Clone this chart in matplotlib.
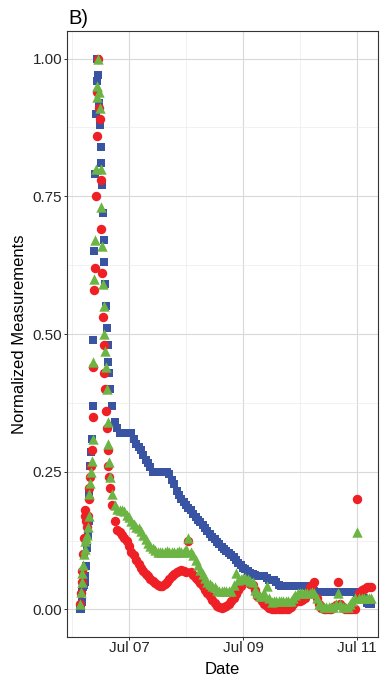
import datetime as dt

import matplotlib
matplotlib.use("Agg")
import matplotlib.pyplot as plt
import matplotlib.dates as mdates
import numpy as np
from matplotlib.ticker import MultipleLocator, FormatStrFormatter

plt.rcParams['font.family'] = ['Liberation Sans', 'DejaVu Sans']

START = dt.datetime(2021, 7, 6)

# Sampling times, hours after Jul 06 00:00: 20-min readings around the pulse,
# then hourly readings for the recession.
peak_hours = np.arange(38) / 3.0 + 10.0 / 3.0
tail_hours = np.arange(111) * 1.0 + 16.0

blue_peak = [0.0, 0.0, 0.013, 0.031, 0.04, 0.045, 0.05, 0.06, 0.078, 0.112,
             0.135, 0.16, 0.21, 0.26, 0.285, 0.31, 0.37, 0.49, 0.65, 0.79,
             0.90, 0.96, 1.0, 0.97, 0.92, 0.88, 0.84, 0.81, 0.77, 0.72,
             0.67, 0.63, 0.59, 0.55, 0.51, 0.48, 0.45, 0.43]
red_peak = [0.01, 0.03, 0.05, 0.07, 0.10, 0.13, 0.17, 0.18, 0.16, 0.15,
            0.17, 0.20, 0.22, 0.24, 0.26, 0.29, 0.35, 0.44, 0.58, 0.62,
            0.75, 0.86, 0.94, 1.0, 0.91, 0.89, 0.78, 0.69, 0.61, 0.53,
            0.48, 0.43, 0.40, 0.36, 0.33, 0.29, 0.26, 0.24]
green_peak = [0.01, 0.031, 0.05, 0.067, 0.08, 0.10, 0.11, 0.124, 0.13, 0.136,
              0.15, 0.17, 0.21, 0.23, 0.25, 0.27, 0.31, 0.45, 0.60, 0.67,
              0.80, 0.93, 0.95, 1.0, 0.94, 0.91, 0.80, 0.73, 0.66, 0.59,
              0.55, 0.50, 0.47, 0.44, 0.40, 0.34, 0.30, 0.267]

blue_tail = [
    0.40, 0.37, 0.34, 0.33, 0.32, 0.32, 0.32, 0.32, 0.32, 0.32,
    0.31, 0.30, 0.295, 0.29, 0.28, 0.272, 0.265, 0.258, 0.25, 0.25,
    0.25, 0.25, 0.25, 0.25, 0.25, 0.245, 0.235, 0.227, 0.215, 0.208,
    0.20, 0.195, 0.19, 0.185, 0.18, 0.173, 0.167, 0.163, 0.158, 0.153,
    0.148, 0.142, 0.137, 0.132, 0.127, 0.122, 0.118, 0.114, 0.11, 0.106,
    0.103, 0.099, 0.095, 0.09, 0.085, 0.08, 0.076, 0.073, 0.07, 0.067,
    0.064, 0.062, 0.06, 0.06, 0.06, 0.06, 0.057, 0.054, 0.054, 0.054,
    0.05, 0.045, 0.042, 0.042, 0.042, 0.042, 0.042, 0.042, 0.042, 0.042,
    0.042, 0.042, 0.042, 0.042, 0.04, 0.036, 0.033, 0.031, 0.031, 0.031,
    0.031, 0.031, 0.031, 0.031, 0.031, 0.031, 0.031, 0.031, 0.031, 0.031,
    0.031, 0.031, 0.031, 0.031, 0.03, 0.028, 0.024, 0.02, 0.012, 0.01,
    0.01]
red_tail = [
    0.22, 0.19, 0.16, 0.145, 0.14, 0.135, 0.13, 0.125, 0.115, 0.105,
    0.098, 0.09, 0.082, 0.076, 0.07, 0.065, 0.06, 0.056, 0.052, 0.048,
    0.045, 0.043, 0.043, 0.046, 0.05, 0.055, 0.06, 0.065, 0.068, 0.07,
    0.072, 0.07, 0.068, 0.125, 0.068, 0.063, 0.058, 0.053, 0.048, 0.042,
    0.036, 0.03, 0.025, 0.018, 0.012, 0.007, 0.004, 0.003, 0.004, 0.006,
    0.01, 0.015, 0.02, 0.028, 0.036, 0.042, 0.048, 0.05, 0.05, 0.047,
    0.044, 0.035, 0.025, 0.02, 0.015, 0.01, 0.006, 0.003, 0.0, 0.0,
    0.0, 0.0, 0.0, 0.0, 0.0, 0.0, 0.005, 0.01, 0.015, 0.015,
    0.015, 0.018, 0.02, 0.03, 0.04, 0.045, 0.05, 0.02, 0.01, 0.003,
    0.0, 0.0, 0.0, 0.0, 0.005, 0.008, 0.05, 0.01, 0.005, 0.0,
    0.0, 0.0, 0.0, 0.0, 0.2, 0.03, 0.035, 0.038, 0.04, 0.04,
    0.04]
green_tail = [
    0.24, 0.21, 0.19, 0.182, 0.18, 0.18, 0.178, 0.172, 0.168, 0.16,
    0.155, 0.15, 0.148, 0.142, 0.136, 0.128, 0.12, 0.116, 0.112, 0.108,
    0.105, 0.104, 0.105, 0.105, 0.106, 0.105, 0.105, 0.104, 0.105, 0.106,
    0.105, 0.105, 0.11, 0.13, 0.105, 0.098, 0.09, 0.08, 0.072, 0.065,
    0.058, 0.05, 0.046, 0.042, 0.04, 0.036, 0.034, 0.033, 0.033, 0.033,
    0.033, 0.033, 0.045, 0.067, 0.054, 0.055, 0.058, 0.057, 0.055, 0.052,
    0.049, 0.036, 0.03, 0.025, 0.024, 0.03, 0.042, 0.02, 0.013, 0.015,
    0.015, 0.015, 0.015, 0.015, 0.015, 0.015, 0.015, 0.02, 0.027, 0.03,
    0.03, 0.03, 0.03, 0.03, 0.03, 0.032, 0.03, 0.02, 0.01, 0.008,
    0.004, 0.004, 0.004, 0.004, 0.004, 0.01, 0.03, 0.01, 0.005, 0.005,
    0.005, 0.01, 0.015, 0.02, 0.14, 0.02, 0.02, 0.02, 0.02, 0.02,
    0.02]

y_ticks = [0.0, 0.25, 0.5, 0.75, 1.0]
x_tick_days = [7, 9, 11]

BLUE = '#3A54A4'
RED = '#EE1F25'
GREEN = '#6CB443'


def to_dates(hours):
    return mdates.date2num([START + dt.timedelta(hours=float(h)) for h in hours])


times = np.concatenate([to_dates(peak_hours), to_dates(tail_hours)])
series = [
    (blue_peak + blue_tail, 's', 40, BLUE),
    (red_peak + red_tail, 'o', 46, RED),
    (green_peak + green_tail, '^', 56, GREEN),
]

fig = plt.figure(figsize=(3.8, 6.76), dpi=100)
ax = fig.add_axes([67 / 380, 1 - 637 / 676, 311 / 380, 606 / 676])

for values, marker, size, color in series:
    ax.scatter(times, values, marker=marker, s=size, c=color,
               linewidths=0, zorder=3)

t0 = mdates.date2num(START)
ax.set_xlim(t0 - 0.088, t0 + 5.368)
ax.set_ylim(-0.05, 1.05)

ax.xaxis.set_major_locator(mdates.DayLocator(bymonthday=x_tick_days))
ax.xaxis.set_minor_locator(mdates.DayLocator(bymonthday=[6, 8, 10]))
ax.xaxis.set_major_formatter(mdates.DateFormatter('%b %d'))
ax.set_yticks(y_ticks)
ax.yaxis.set_minor_locator(MultipleLocator(0.125))
ax.yaxis.set_major_formatter(FormatStrFormatter('%.2f'))

ax.set_axisbelow(True)
ax.grid(which='major', color='#d9d9d9', linewidth=0.8)
ax.grid(which='minor', color='#ececec', linewidth=0.5)
ax.tick_params(which='minor', length=0)
ax.tick_params(which='major', length=2.2, width=0.7, color='#333333',
               labelsize=11, labelcolor='#262626')
ax.tick_params(axis='y', pad=1.4)
ax.tick_params(axis='x', pad=0.8)
for sp in ax.spines.values():
    sp.set_color('#333333')
    sp.set_linewidth(0.8)

fig.text(20 / 380, 1 - 334 / 676, 'Normalized Measurements', rotation=90,
         ha='center', va='center', fontsize=12)
fig.text(222 / 380, 1 - 674 / 676, 'Date', ha='center', va='baseline',
         fontsize=12)
fig.text(68 / 380, 1 - 24 / 676, 'B)', ha='left', va='baseline', fontsize=14.5)

fig.savefig('out.png', dpi=100, facecolor='white')
